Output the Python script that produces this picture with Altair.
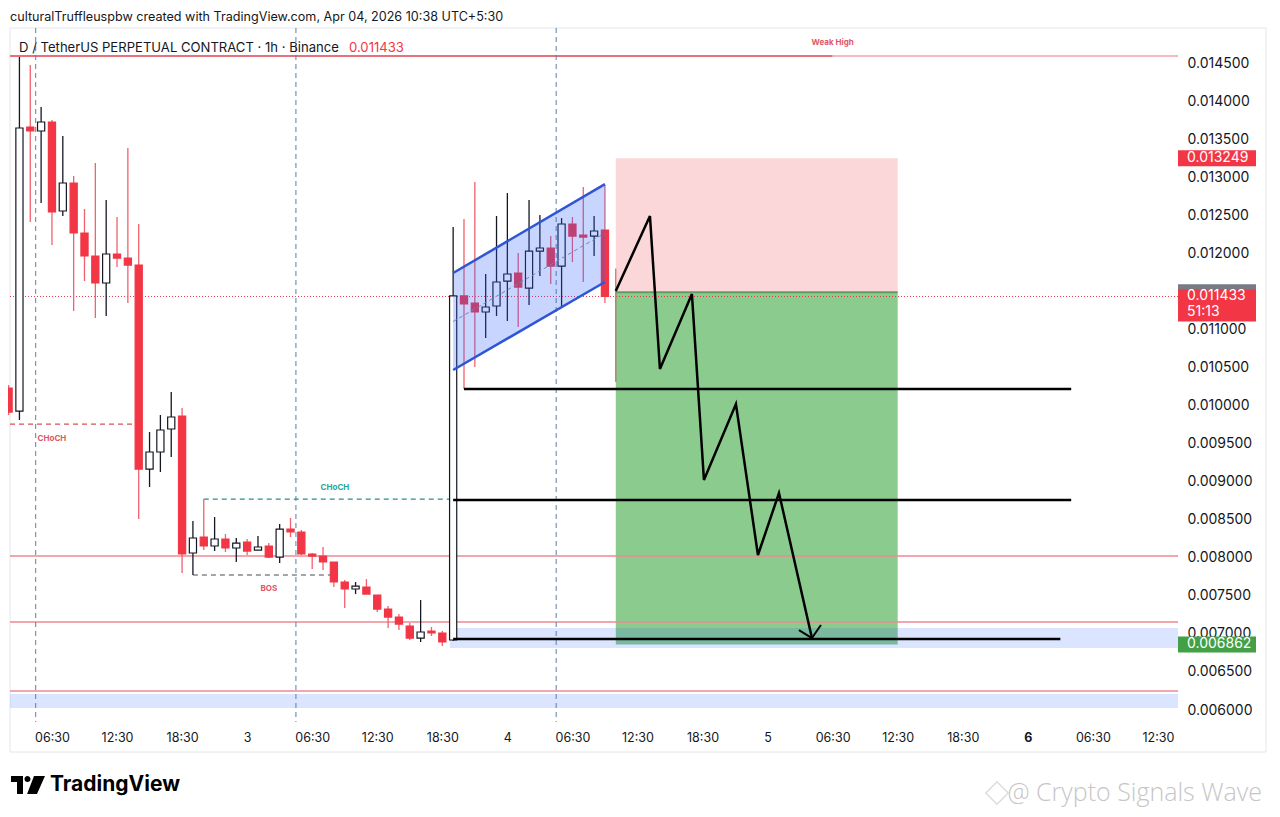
import altair as alt
import pandas as pd

# ---------------- data: 1h candles (hour index, 0 = Apr 3 00:30) ----------------
hours = list(range(-22, 34))
opens = [0.010230, 0.009928, 0.013659, 0.013607, 0.013725, 0.012556, 0.012924, 0.012267,
         0.011965, 0.011610, 0.011991, 0.011938, 0.011846, 0.009166, 0.009390, 0.009692,
         0.009863, 0.008063, 0.008273, 0.008155, 0.008247, 0.008129, 0.008207, 0.008102,
         0.008155, 0.008010, 0.008378, 0.008339, 0.008050, 0.008023, 0.007945, 0.007682,
         0.007590, 0.007616, 0.007511, 0.007327, 0.007222, 0.007104, 0.006946, 0.007038,
         0.007012, 0.006920, 0.011440, 0.011347, 0.011229, 0.011308, 0.011636, 0.011741,
         0.011544, 0.012030, 0.012070, 0.011833, 0.012385, 0.012240, 0.012227, 0.012306]
highs = [0.010270, 0.014579, 0.014474, 0.013922, 0.013751, 0.013541, 0.013016, 0.012582,
         0.013186, 0.012700, 0.012477, 0.013383, 0.012385, 0.009652, 0.009876, 0.010178,
         0.009968, 0.008483, 0.008772, 0.008536, 0.008312, 0.008260, 0.008247, 0.008286,
         0.008194, 0.008444, 0.008523, 0.008365, 0.008063, 0.008142, 0.007945, 0.007708,
         0.007682, 0.007721, 0.007511, 0.007367, 0.007262, 0.007143, 0.007445, 0.007091,
         0.007038, 0.012346, 0.012451, 0.012937, 0.011728, 0.012490, 0.012792, 0.012004,
         0.012700, 0.012503, 0.012227, 0.012464, 0.012477, 0.012871, 0.012490, 0.012897]
lows = [0.009876, 0.009810, 0.012411, 0.012661, 0.012109, 0.012490, 0.011242, 0.011636,
        0.011150, 0.011176, 0.011820, 0.011347, 0.008510, 0.008930, 0.009127, 0.009324,
        0.007800, 0.007774, 0.008102, 0.008089, 0.008076, 0.007945, 0.008037, 0.008102,
        0.007997, 0.007931, 0.008273, 0.008037, 0.007853, 0.007840, 0.007616, 0.007340,
        0.007524, 0.007524, 0.007288, 0.007078, 0.007051, 0.006920, 0.006894, 0.006972,
        0.006841, 0.006907, 0.010217, 0.010506, 0.010887, 0.011176, 0.011111, 0.011032,
        0.011321, 0.011702, 0.011597, 0.011308, 0.011886, 0.011623, 0.011965, 0.011347]
closes = [0.009915, 0.013646, 0.013607, 0.013725, 0.012543, 0.012924, 0.012267, 0.011965,
          0.011610, 0.011991, 0.011938, 0.011846, 0.009166, 0.009390, 0.009679, 0.009850,
          0.008050, 0.008260, 0.008155, 0.008247, 0.008129, 0.008194, 0.008089, 0.008142,
          0.008010, 0.008378, 0.008339, 0.008050, 0.008023, 0.007945, 0.007682, 0.007590,
          0.007629, 0.007524, 0.007327, 0.007222, 0.007130, 0.006946, 0.007025, 0.007012,
          0.006894, 0.011440, 0.011334, 0.011229, 0.011295, 0.011623, 0.011728, 0.011557,
          0.012030, 0.012070, 0.011833, 0.012385, 0.012227, 0.012214, 0.012293, 0.011433]

# ---------------- axis ticks ----------------
time_ticks = [-18, -12, -6, 0, 6, 12, 18, 24, 30, 36, 42, 48, 54, 60, 66, 72, 78, 84]
# 0.011500 sits under the live-price tag in the original, so it is not drawn
price_ticks = [0.0060, 0.0065, 0.0070, 0.0075, 0.0080, 0.0085, 0.0090, 0.0095, 0.0100,
               0.0105, 0.0110, 0.0120, 0.0125, 0.0130, 0.0135, 0.0140, 0.0145]
x_domain = [-21.87, 85.85]
y_domain = [0.005843, 0.014960]

# ---------------- drawings ----------------
last_price = 0.011433
weak_high = 0.014592
weak_high_split = 54.0
red_levels = [0.008023, 0.007156, 0.006250]
zone_t1 = [18.7, -21.87]
zone_t2 = [85.85, 85.85]
zone_top = [0.007077, 0.006210]
zone_bottom = [0.006814, 0.006026]
session_breaks = [-19.5, 4.5, 28.5]
choch_red = {"t1": -21.87, "t2": -10, "p": 0.009757}
choch_teal = {"t1": -4, "t2": 19, "p": 0.008772}
bos = {"t1": -5, "t2": 8, "p": 0.007774}
black_t1 = [20, 19, 19]
black_t2 = [76, 76, 75]
black_p = [0.010217, 0.008759, 0.006933]
chan_t = [19, 33]
chan_upper = [0.011741, 0.012910]
chan_lower = [0.010467, 0.011623]
pos_t1, pos_t2 = 34, 60
entry_price = 0.011490
stop_price = 0.013249
target_price = 0.006862
zig_t = [34.0, 37.15, 38.07, 41.02, 42.13, 45.08, 47.11, 49.05, 52.09]
zig_p = [0.011505, 0.012490, 0.010480, 0.011465, 0.009022, 0.010020, 0.008037, 0.008851, 0.006946]
arrow_t = [50.89, 52.92]
arrow_p = [0.007051, 0.007117]
marker_t = 34
marker_top, marker_bottom = 0.011800, 0.010310
red_label_t = [-18.0, 2.0, 54.0]
red_label_p = [0.009560, 0.007590, 0.014763]
red_label_txt = ["CHoCH", "BOS", "Weak High"]
teal_label_t = [8.1]
teal_label_p = [0.008917]
teal_label_txt = ["CHoCH"]

# ---------------- scales / axes ----------------
W, H = 1168, 694
xs = alt.Scale(domain=x_domain, nice=False, zero=False)
ys = alt.Scale(domain=y_domain, nice=False, zero=False)

label_expr = ("datum.value % 24 == 0 ? toString(3 + datum.value / 24) : "
              "((((datum.value % 24) + 24) % 24) == 6 ? '06:30' : "
              "((((datum.value % 24) + 24) % 24) == 12 ? '12:30' : '18:30'))")
x_axis = alt.Axis(values=time_ticks, labelExpr=label_expr, title=None, grid=False,
                  domain=False, ticks=False, tickSize=0, labelPadding=9, labelFont="Inter",
                  labelFontSize=12.5, labelColor="#131722", labelFlush=False,
                  labelOverlap=False,
                  labelFontWeight={"condition": {"test": "datum.value == 72", "value": "bold"},
                                   "value": "normal"})
y_axis = alt.Axis(orient="right", values=price_ticks, format=".6f", title=None, grid=False,
                  domain=False, ticks=False, tickSize=0, labelPadding=9, labelFont="Inter",
                  labelFontSize=14, labelColor="#131722", labelFlush=False, labelOverlap=False)


def X(f):
    return alt.X(f, type="quantitative", scale=xs, axis=x_axis)


def Y(f):
    return alt.Y(f, type="quantitative", scale=ys, axis=y_axis)


one = pd.DataFrame({"a": [0]})
candles = pd.DataFrame({"t": hours, "open": opens, "high": highs, "low": lows, "close": closes})

RED = "#f23645"
INK = "#131722"

layers = []

# frame
layers.append(alt.Chart(one).mark_rect(fill="transparent", stroke="#e4e6ec", strokeWidth=1).encode(
    x=alt.value(0), x2=alt.value(1256), y=alt.value(0), y2=alt.value(724)))

# position tool
pos = pd.DataFrame({"t1": [pos_t1], "t2": [pos_t2], "entry": [entry_price],
                    "stop": [stop_price], "target": [target_price]})
layers.append(alt.Chart(pos).mark_rect(color=RED, opacity=0.2).encode(
    x=X("t1"), x2="t2", y=Y("stop"), y2="entry"))
layers.append(alt.Chart(pos).mark_rect(color="#3da841", opacity=0.6).encode(
    x=X("t1"), x2="t2", y=Y("entry"), y2="target"))
layers.append(alt.Chart(pos).mark_rule(color="#5f9e62", strokeWidth=2).encode(
    x=X("t1"), x2="t2", y=Y("entry")))

# blue zones
zones = pd.DataFrame({"t1": zone_t1, "t2": zone_t2, "top": zone_top, "bottom": zone_bottom})
layers.append(alt.Chart(zones).mark_rect(color="#2962ff", opacity=0.17).encode(
    x=X("t1"), x2="t2", y=Y("top"), y2="bottom"))

# red levels
layers.append(alt.Chart(pd.DataFrame({"p": red_levels})).mark_rule(
    color="#ee8a94", strokeWidth=1.5).encode(y=Y("p")))
wh = pd.DataFrame({"t1": [x_domain[0]], "t2": [weak_high_split], "t3": [x_domain[1]], "p": [weak_high]})
layers.append(alt.Chart(wh).mark_rule(strokeWidth=1.6, color="#e0404f").encode(
    x=X("t1"), x2="t2", y=Y("p")))
layers.append(alt.Chart(wh).mark_rule(strokeWidth=1.6, color="#f2a3aa").encode(
    x=X("t2"), x2="t3", y=Y("p")))

# last price dotted
layers.append(alt.Chart(pd.DataFrame({"p": [last_price]})).mark_rule(
    color=RED, strokeWidth=1, strokeDash=[1, 2]).encode(y=Y("p")))

# session breaks
layers.append(alt.Chart(pd.DataFrame({"t": session_breaks})).mark_rule(
    color="#5a7fa8", strokeWidth=1, strokeDash=[5, 4]).encode(x=X("t")))

# structure dashed lines
for seg, col in [(choch_red, "#d9534f"), (choch_teal, "#2a8f85"), (bos, "#4a4a4a")]:
    layers.append(alt.Chart(pd.DataFrame([seg])).mark_rule(
        color=col, strokeWidth=1.2, strokeDash=[5, 4]).encode(x=X("t1"), x2="t2", y=Y("p")))

# candles
base = alt.Chart(candles).transform_calculate(
    dir="datum.close >= datum.open ? 'up' : 'down'",
    x1="datum.t - 0.33", x2="datum.t + 0.33")
layers.append(base.mark_rule(strokeWidth=1.3).encode(
    x=X("t"), y=Y("low"), y2="high",
    color=alt.Color("dir:N", scale=alt.Scale(domain=["up", "down"], range=[INK, "#f0616d"]),
                    legend=None)))
layers.append(base.mark_rect(strokeWidth=1.2).encode(
    x=X("x1:Q"), x2="x2:Q", y=Y("open"), y2="close",
    fill=alt.Fill("dir:N", scale=alt.Scale(domain=["up", "down"], range=["#ffffff", RED]),
                  legend=None),
    stroke=alt.Stroke("dir:N", scale=alt.Scale(domain=["up", "down"], range=[INK, RED]),
                      legend=None)))

# channel
chan = pd.DataFrame({"t": chan_t, "upper": chan_upper, "lower": chan_lower})
chan_base = alt.Chart(chan).transform_calculate(mid="(datum.upper + datum.lower) / 2")
layers.append(chan_base.mark_area(color="#2962ff", opacity=0.26).encode(
    x=X("t"), y=Y("lower"), y2="upper"))
layers.append(chan_base.mark_line(color="#2f55d4", strokeWidth=2.5).encode(x=X("t"), y=Y("upper")))
layers.append(chan_base.mark_line(color="#2f55d4", strokeWidth=2.5).encode(x=X("t"), y=Y("lower")))
layers.append(chan_base.mark_line(color="#6f86b8", strokeWidth=1, strokeDash=[4, 3]).encode(
    x=X("t"), y=Y("mid:Q")))

# black targets
blk = pd.DataFrame({"t1": black_t1, "t2": black_t2, "p": black_p})
layers.append(alt.Chart(blk).mark_rule(color="#000000", strokeWidth=2.5).encode(
    x=X("t1"), x2="t2", y=Y("p")))

# thin marker
layers.append(alt.Chart(pd.DataFrame({"t": [marker_t], "a": [marker_top], "b": [marker_bottom]})).mark_rule(
    color="#c0504d", strokeWidth=1).encode(x=X("t"), y=Y("a"), y2="b"))

# zig-zag projection
zig = pd.DataFrame({"i": list(range(len(zig_t))), "t": zig_t, "p": zig_p})
layers.append(alt.Chart(zig).mark_line(color="#000000", strokeWidth=2.5).encode(
    x=X("t"), y=Y("p"), order="i:O"))
arr = pd.DataFrame({"t": arrow_t, "p": arrow_p, "t0": [zig_t[-1]] * 2, "p0": [zig_p[-1]] * 2})
layers.append(alt.Chart(arr).mark_rule(color="#000000", strokeWidth=2).encode(
    x=X("t"), y=Y("p"), x2="t0", y2="p0"))

# small labels
layers.append(alt.Chart(pd.DataFrame({"t": red_label_t, "p": red_label_p, "txt": red_label_txt})).mark_text(
    font="Inter", fontSize=8, fontWeight="bold", color="#e05664").encode(
    x=X("t"), y=Y("p"), text="txt:N"))
layers.append(alt.Chart(pd.DataFrame({"t": teal_label_t, "p": teal_label_p, "txt": teal_label_txt})).mark_text(
    font="Inter", fontSize=8, fontWeight="bold", color="#26a69a").encode(
    x=X("t"), y=Y("p"), text="txt:N"))

# price tags on the scale
def tag(price, color, up=0.000105, down=0.000105):
    d = alt.Chart(pd.DataFrame({"p": [price]})).transform_calculate(
        top=f"datum.p + {up}", bot=f"datum.p - {down}")
    return d.mark_rect(color=color).encode(
        x=alt.value(1168), x2=alt.value(1246), y=Y("top:Q"), y2="bot:Q")


def tag_text(price):
    return alt.Chart(pd.DataFrame({"p": [price]})).mark_text(
        align="left", font="Inter", fontSize=14, color="#ffffff").encode(
        x=alt.value(1177), y=Y("p"), text=alt.Text("p:Q", format=".6f"))


layers.append(tag(stop_price, RED))
layers.append(tag_text(stop_price))
layers.append(tag(entry_price, "#787b86"))
layers.append(tag(last_price, RED, 0.000092, 0.000330))
layers.append(tag_text(last_price))
layers.append(alt.Chart(pd.DataFrame({"p": [last_price]})).transform_calculate(
    second="datum.p - 0.000205").mark_text(
    align="left", font="Inter", fontSize=14, color="#ffffff", text="51:13").encode(
    x=alt.value(1177), y=Y("second:Q")))
layers.append(tag(target_price, "#43a047"))
layers.append(tag_text(target_price))

# header / title
layers.append(alt.Chart(one).mark_text(
    align="left", baseline="middle", font="Inter", fontSize=12.6, color="#131722",
    text="culturalTruffleuspbw created with TradingView.com, Apr 04, 2026 10:38 UTC+5:30").encode(
    x=alt.value(0), y=alt.value(-11)))
layers.append(alt.Chart(one).mark_text(
    align="left", baseline="middle", font="Inter", fontSize=13.1, color="#131722",
    text="D / TetherUS PERPETUAL CONTRACT · 1h · Binance").encode(
    x=alt.value(9), y=alt.value(20)))
layers.append(alt.Chart(pd.DataFrame({"p": [last_price]})).mark_text(
    align="left", baseline="middle", font="Inter", fontSize=13.1, color=RED).encode(
    x=alt.value(339), y=alt.value(20), text=alt.Text("p:Q", format=".6f")))

# TradingView logo
logo_path = ("M -0.944 -0.5 L -0.278 -0.5 L -0.278 0.5 L -0.611 0.5 L -0.611 -0.167 L -0.944 -0.167 Z "
             "M -0.195 -0.333 A 0.167 0.167 0 1 0 0.139 -0.333 A 0.167 0.167 0 1 0 -0.195 -0.333 Z "
             "M 0.333 -0.5 L 0.944 -0.5 L 0.5 0.5 L -0.05 0.5 Z")
layers.append(alt.Chart(one).mark_point(shape=logo_path, size=1296, filled=True, color="#000000",
                                        opacity=1, strokeWidth=0).encode(
    x=alt.value(18), y=alt.value(757)))
layers.append(alt.Chart(one).mark_text(
    align="left", baseline="middle", font="Inter", fontSize=21, fontWeight="bold", color="#000000",
    text="TradingView").encode(x=alt.value(40), y=alt.value(757)))

# watermark
layers.append(alt.Chart(one).mark_point(shape="diamond", size=500, filled=False, color="#cfcfcf",
                                        strokeWidth=1.5).encode(x=alt.value(987), y=alt.value(765)))
layers.append(alt.Chart(one).mark_text(
    align="right", baseline="middle", font="Open Sans", fontSize=25, fontWeight=300, color="#c6c6c6",
    text="@ Crypto Signals Wave").encode(x=alt.value(1252), y=alt.value(765)))

chart = alt.layer(*layers).properties(
    width=W, height=H,
    autosize=alt.AutoSizeParams(type="none"),
    padding={"left": 2, "top": 20, "right": 94, "bottom": 85},
    background="#ffffff",
).configure_view(stroke=None)

chart.save("out.html", embed_options={"renderer": "svg", "actions": False})
